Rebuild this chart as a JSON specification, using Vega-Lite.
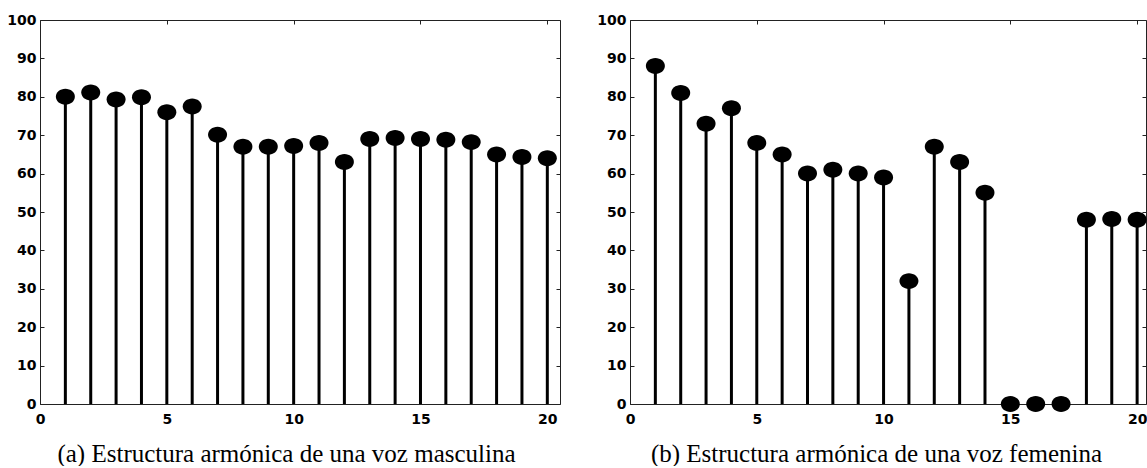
{
  "$schema": "https://vega.github.io/schema/vega-lite/v6.json",
  "padding": {"left": 6, "top": 13, "right": 0, "bottom": 0},
  "background": "white",
  "datasets": {
    "masculina": [
      {"n": 1, "v": 80.0}, {"n": 2, "v": 81.1}, {"n": 3, "v": 79.3}, {"n": 4, "v": 79.9},
      {"n": 5, "v": 76.0}, {"n": 6, "v": 77.5}, {"n": 7, "v": 70.1}, {"n": 8, "v": 67.0},
      {"n": 9, "v": 67.0}, {"n": 10, "v": 67.2}, {"n": 11, "v": 68.0}, {"n": 12, "v": 63.0},
      {"n": 13, "v": 69.0}, {"n": 14, "v": 69.3}, {"n": 15, "v": 69.0}, {"n": 16, "v": 68.8},
      {"n": 17, "v": 68.2}, {"n": 18, "v": 65.0}, {"n": 19, "v": 64.3}, {"n": 20, "v": 64.0}
    ],
    "femenina": [
      {"n": 1, "v": 88.0}, {"n": 2, "v": 81.0}, {"n": 3, "v": 73.0}, {"n": 4, "v": 77.0},
      {"n": 5, "v": 68.0}, {"n": 6, "v": 65.0}, {"n": 7, "v": 60.0}, {"n": 8, "v": 61.0},
      {"n": 9, "v": 60.0}, {"n": 10, "v": 59.0}, {"n": 11, "v": 32.0}, {"n": 12, "v": 67.0},
      {"n": 13, "v": 63.0}, {"n": 14, "v": 55.0}, {"n": 15, "v": 0.0}, {"n": 16, "v": 0.0},
      {"n": 17, "v": 0.0}, {"n": 18, "v": 48.0}, {"n": 19, "v": 48.2}, {"n": 20, "v": 48.0}
    ]
  },
  "spacing": 35,
  "hconcat": [
    {
      "width": 520,
      "height": 384,
      "data": {"name": "masculina"},
      "layer": [
        {
          "mark": {"type": "rule", "color": "black", "strokeWidth": 3},
          "encoding": {
            "x": {"field": "n", "type": "quantitative", "scale": {"domain": [0, 20.5], "nice": false, "zero": false},
              "axis": {"orient": "bottom", "values": [0, 5, 10, 15, 20], "labelPadding": 12, "title": "(a) Estructura armónica de una voz masculina", "titleX": 246, "titlePadding": 35, "titleBaseline": "alphabetic"}},
            "y": {"field": "v", "type": "quantitative", "scale": {"domain": [0, 100], "nice": false},
              "axis": {"orient": "left", "labelPadding": 8, "values": [0, 10, 20, 30, 40, 50, 60, 70, 80, 90, 100], "title": null}},
            "y2": {"datum": 0}
          }
        },
        {
          "mark": {"type": "point", "filled": true, "color": "black", "opacity": 1, "size": 361,
            "shape": "M-1,0A1,0.84,0,1,0,1,0A1,0.84,0,1,0,-1,0Z"},
          "encoding": {
            "x": {"field": "n", "type": "quantitative",
              "axis": {"orient": "top", "labels": false, "title": null, "values": [0, 5, 10, 15, 20]}},
            "y": {"field": "v", "type": "quantitative",
              "axis": {"orient": "right", "labels": false, "title": null, "values": [0, 10, 20, 30, 40, 50, 60, 70, 80, 90, 100]}}
          }
        }
      ],
      "resolve": {"axis": {"x": "independent", "y": "independent"}}
    },
    {
      "width": 516,
      "height": 384,
      "data": {"name": "femenina"},
      "layer": [
        {
          "mark": {"type": "rule", "color": "black", "strokeWidth": 3},
          "encoding": {
            "x": {"field": "n", "type": "quantitative", "scale": {"domain": [0, 20.35], "nice": false, "zero": false},
              "axis": {"orient": "bottom", "values": [0, 5, 10, 15, 20], "labelPadding": 12, "title": "(b) Estructura armónica de una voz femenina", "titleX": 246, "titlePadding": 35, "titleBaseline": "alphabetic"}},
            "y": {"field": "v", "type": "quantitative", "scale": {"domain": [0, 100], "nice": false},
              "axis": {"orient": "left", "labelPadding": 8, "values": [0, 10, 20, 30, 40, 50, 60, 70, 80, 90, 100], "title": null}},
            "y2": {"datum": 0}
          }
        },
        {
          "mark": {"type": "point", "filled": true, "color": "black", "opacity": 1, "size": 361,
            "shape": "M-1,0A1,0.84,0,1,0,1,0A1,0.84,0,1,0,-1,0Z"},
          "encoding": {
            "x": {"field": "n", "type": "quantitative",
              "axis": {"orient": "top", "labels": false, "title": null, "values": [0, 5, 10, 15, 20]}},
            "y": {"field": "v", "type": "quantitative",
              "axis": {"orient": "right", "labels": false, "title": null, "values": [0, 10, 20, 30, 40, 50, 60, 70, 80, 90, 100]}}
          }
        }
      ],
      "resolve": {"axis": {"x": "independent", "y": "independent"}}
    }
  ],
  "config": {
    "view": {"stroke": null},
    "axis": {
      "grid": false,
      "labelFont": "DejaVu Sans",
      "labelFontWeight": "bold",
      "labelFontSize": 14,
      "labelColor": "black",
      "labelFlush": false,
      "domainColor": "#222",
      "domainWidth": 1,
      "tickColor": "#222",
      "tickSize": -4,
      "titleFont": "Liberation Serif",
      "titleFontSize": 25,
      "titleFontWeight": "normal",
      "titleColor": "black"
    }
  }
}
